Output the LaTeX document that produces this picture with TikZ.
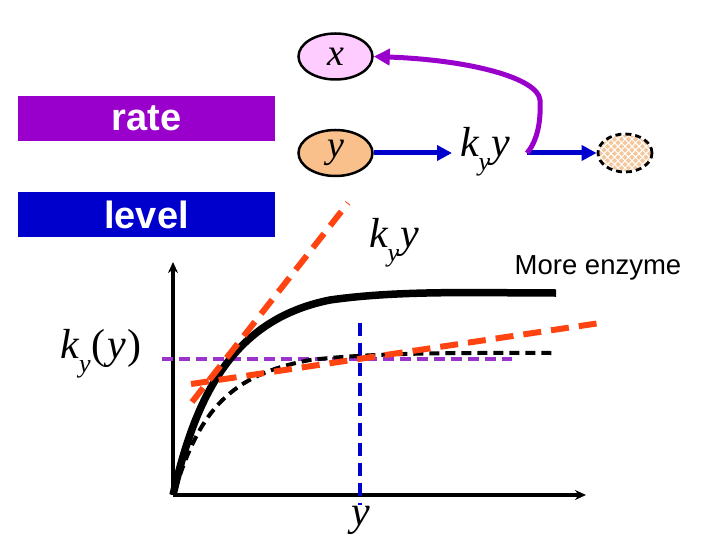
\documentclass[tikz,border=0pt]{standalone}
\usepackage{fontspec}
\setmainfont{Liberation Serif}
\newfontfamily\arial{Liberation Sans}
\usetikzlibrary{arrows.meta,shapes.geometric}
\definecolor{ratecol}{HTML}{9900CC}
\definecolor{levelcol}{HTML}{0000CC}
\definecolor{pinkfill}{HTML}{FFCCFF}
\definecolor{peach}{HTML}{F9C08C}
\definecolor{dotcol}{HTML}{F5C79C}
\definecolor{orangeline}{HTML}{FF4411}
\definecolor{purpledash}{HTML}{9933CC}
\definecolor{curvepurple}{HTML}{9900CC}
\newcommand{\subY}{\raisebox{-0.33em}{\fontsize{26}{26}\selectfont\textit{y}}}
\newcommand{\kyy}{\textit{k}\kern-1pt\subY\kern1pt\textit{y}}
\begin{document}
\begin{tikzpicture}[x=1pt,y=-1pt,
  bar/.style={minimum width=257pt,minimum height=45pt,inner sep=0pt,text=white,font=\arial\bfseries\fontsize{38}{38}\selectfont},
  spec/.style={ellipse,draw=black,line width=2.5pt,minimum width=74pt,minimum height=46pt,inner sep=0pt},
  flow/.style={draw=levelcol,line width=5pt,-{Triangle[length=15pt,width=15pt]}},
  axis/.style={line width=4.5pt,-{Stealth[length=11pt,width=10pt]}},
  odash/.style={draw=orangeline,line width=6pt,dash pattern=on 18pt off 10pt},
  lab/.style={font=\fontsize{42}{42}\selectfont,inner sep=0pt}]
\useasboundingbox (0,0) rectangle (720,540);
% bars
\node[bar,fill=ratecol] (rate) at (146.5,118.5) {rate};
\node[bar,fill=levelcol] (level) at (146.5,214.5) {level};
% species
\node[spec,fill=pinkfill] (x) at (335.5,56.5) {\fontsize{38}{38}\selectfont\textit{x}};
\node[spec,fill=peach] (y) at (335.5,153) {\raisebox{-2pt}{\fontsize{38}{38}\selectfont\textit{y}}};
\node[lab] (kyy) at (485,152) {\kyy};
% sink ellipse with diamond dots
\begin{scope}
  \clip (625,153) ellipse (26pt and 18pt);
  \fill[white] (595,130) rectangle (655,176);
  \foreach \i in {0,...,9} {
    \foreach \j in {0,...,11} {
      \fill[dotcol] ({597+\i*7+mod(\j,2)*3.5},{133+\j*3.6}) -- ++(2.6,2.6) -- ++(-2.6,2.6) -- ++(-2.6,-2.6) -- cycle;
    }
  }
\end{scope}
\node[ellipse,draw=black,line width=2.8pt,dash pattern=on 6pt off 4pt,minimum width=54pt,minimum height=38pt,inner sep=0pt] (sink) at (625,153) {};
% flows
\draw[flow] (y.east) -- (452,153) coordinate (kyyW);
\coordinate (kyyE) at (527,153);
\draw[flow] (kyyE) -- (sink.west);
\draw[draw=curvepurple,line width=5pt,-{Triangle[length=16pt,width=16pt]}]
  (kyyE) .. controls (538,140) and (541,120) .. (540,100)
  .. controls (538,78) and (470,60) .. (x.east);
% axes
\coordinate (O) at (173,495);
\coordinate (Ytop) at (173,262);
\coordinate (Xend) at (586,495);
\draw[axis] (O) -- (Ytop);
\draw[axis] (O) -- (Xend);
% purple dashed and blue dashed
\coordinate (pdA) at (162,359);
\coordinate (pdB) at (512,359);
\draw[draw=purpledash,line width=4pt,dash pattern=on 11pt off 6pt] (pdA) -- (pdB);
\coordinate (bdA) at (360,323);
\coordinate (bdB) at (360,505);
\draw[draw=levelcol,line width=4pt,dash pattern=on 13pt off 7pt] (bdA) -- (bdB);
% curves
\draw[line width=7.5pt] (O) .. controls (195,400) and (230,320) .. (330,300) .. controls (400,290) and (480,293) .. (556,293);
\draw[line width=4pt,dash pattern=on 10pt off 6pt] (175,490) .. controls (200,410) and (230,375) .. (310,360) .. controls (380,352) and (470,353) .. (556,353);
% orange tangents
\coordinate (t1a) at (192,402);
\coordinate (t1b) at (348,203);
\draw[odash] (t1a) -- (t1b);
\coordinate (t2a) at (191,384);
\coordinate (t2b) at (600,323);
\draw[odash] (t2a) -- (t2b);
% labels
\node[lab] (kyy2) at (394,243) {\kyy};
\node[font=\arial\fontsize{27.5}{27.5}\selectfont,inner sep=0pt] (more) at (598,268) {More enzyme};
\node[lab] (kyofy) at (101,354) {\textit{k}\kern-1pt\subY\kern1pt(\kern2pt\textit{y}\kern1pt)};
\node[lab] (ylab) at (361,520) {\textit{y}};
\end{tikzpicture}
\end{document}
